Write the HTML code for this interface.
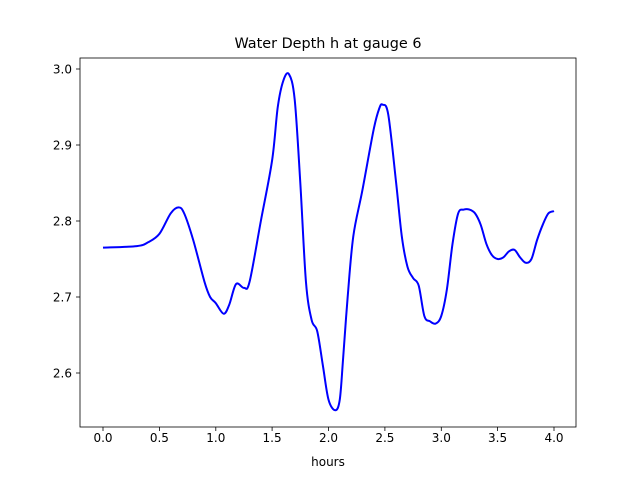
<!DOCTYPE html>
<html><head><meta charset="utf-8"><style>
body{margin:0;background:#fff}
svg text{font-family:"DejaVu Sans","Liberation Sans",sans-serif;fill:#000}
</style></head><body>
<svg id="s" width="640" height="480" xmlns="http://www.w3.org/2000/svg">
<rect width="640" height="480" fill="#fff"/>
<text x="328" y="48" font-size="14.4" text-anchor="middle">Water Depth h at gauge 6</text>
<g stroke="#000" stroke-width="0.8">
<line x1="103" y1="427" x2="103" y2="431"/><line x1="159.4" y1="427" x2="159.4" y2="431"/>
<line x1="215.8" y1="427" x2="215.8" y2="431"/><line x1="272.1" y1="427" x2="272.1" y2="431"/>
<line x1="328.5" y1="427" x2="328.5" y2="431"/><line x1="384.9" y1="427" x2="384.9" y2="431"/>
<line x1="441.3" y1="427" x2="441.3" y2="431"/><line x1="497.6" y1="427" x2="497.6" y2="431"/>
<line x1="554" y1="427" x2="554" y2="431"/>
<line x1="76" y1="69" x2="80" y2="69"/><line x1="76" y1="145" x2="80" y2="145"/>
<line x1="76" y1="221" x2="80" y2="221"/><line x1="76" y1="297" x2="80" y2="297"/>
<line x1="76" y1="373" x2="80" y2="373"/>
</g>
<g font-size="12" text-anchor="middle">
<text x="103" y="442">0.0</text><text x="159.4" y="442">0.5</text><text x="215.8" y="442">1.0</text>
<text x="272.1" y="442">1.5</text><text x="328.5" y="442">2.0</text><text x="384.9" y="442">2.5</text>
<text x="441.3" y="442">3.0</text><text x="497.6" y="442">3.5</text><text x="554" y="442">4.0</text>
<text x="328" y="466">hours</text>
</g>
<g font-size="12" text-anchor="end">
<text x="72" y="73.5">3.0</text><text x="72" y="149.5">2.9</text><text x="72" y="225.5">2.8</text>
<text x="72" y="301.5">2.7</text><text x="72" y="377.5">2.6</text>
</g>
<path id="p" fill="none" stroke="#0000ff" stroke-width="2" stroke-linejoin="round"/>
<rect x="80" y="58" width="496" height="369" fill="none" stroke="#000" stroke-width="0.8"/>
</svg>
<script>
var d=[[0,2.765],[0.3,2.767],[0.4,2.772],[0.5,2.783],[0.6,2.81],[0.67,2.818],[0.72,2.81],[0.8,2.775],[0.9,2.72],[0.95,2.70],[1.0,2.692],[1.07,2.678],[1.12,2.69],[1.18,2.717],[1.25,2.712],[1.3,2.72],[1.4,2.8],[1.5,2.88],[1.55,2.95],[1.6,2.985],[1.65,2.993],[1.7,2.96],[1.75,2.85],[1.8,2.72],[1.85,2.67],[1.9,2.655],[1.95,2.61],[2.0,2.565],[2.06,2.551],[2.1,2.565],[2.13,2.62],[2.17,2.7],[2.22,2.78],[2.3,2.84],[2.4,2.92],[2.45,2.948],[2.48,2.953],[2.53,2.94],[2.6,2.85],[2.65,2.78],[2.7,2.74],[2.75,2.725],[2.8,2.715],[2.85,2.675],[2.9,2.668],[2.95,2.665],[3.0,2.675],[3.05,2.71],[3.1,2.77],[3.15,2.81],[3.2,2.815],[3.25,2.815],[3.3,2.81],[3.35,2.795],[3.4,2.77],[3.45,2.755],[3.5,2.75],[3.55,2.752],[3.6,2.76],[3.65,2.762],[3.7,2.752],[3.75,2.745],[3.8,2.75],[3.85,2.775],[3.9,2.795],[3.95,2.81],[4.0,2.813]];
var p=d.map(function(a){return [103+112.75*a[0],69+(3-a[1])*760];});
var s="M"+p[0][0]+","+p[0][1];
for(var i=0;i<p.length-1;i++){var a=p[i-1]||p[i],b=p[i],c=p[i+1],e=p[i+2]||c;
s+=" C"+(b[0]+(c[0]-a[0])/6)+","+(b[1]+(c[1]-a[1])/6)+" "+(c[0]-(e[0]-b[0])/6)+","+(c[1]-(e[1]-b[1])/6)+" "+c[0]+","+c[1];}
document.getElementById("p").setAttribute("d",s);
</script>
</body></html>
